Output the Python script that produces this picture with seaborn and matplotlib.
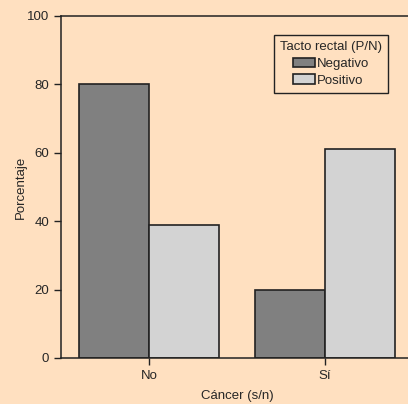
import pandas as pd
import matplotlib.pyplot as plt
import seaborn as sns

# Data
cancer = ['No', 'No', 'Sí', 'Sí']
tacto = ['Negativo', 'Positivo', 'Negativo', 'Positivo']
porcentaje = [80, 39, 20, 61]

df = pd.DataFrame({'Cáncer': cancer, 'Tacto': tacto, 'Porcentaje': porcentaje})

BG = '#FFE0C0'

sns.set_style('ticks')
plt.rcParams['font.family'] = ['Liberation Sans Narrow', 'Liberation Sans', 'DejaVu Sans']

fig = plt.figure(figsize=(4.08, 4.04), dpi=100, facecolor=BG)
ax = fig.add_axes([61 / 408, 46 / 404, 352 / 408, 342 / 404])
ax.set_facecolor(BG)

sns.barplot(
    data=df,
    x='Cáncer',
    y='Porcentaje',
    hue='Tacto',
    palette=['#808080', '#D3D3D3'],
    edgecolor='#222222',
    linewidth=1.2,
    width=0.8,
    saturation=1,
    ax=ax
)

ax.set_xlim(-0.5, 1.5)
ax.set_ylim(0, 100)
ax.set_yticks([0, 20, 40, 60, 80, 100])
ax.set_xlabel('Cáncer (s/n)', fontsize=9.5, labelpad=6)
ax.set_ylabel('Porcentaje', fontsize=9.5, labelpad=0)
ax.tick_params(labelsize=9.5, length=5, width=1, color='#222222')

for side in ['left', 'bottom', 'top']:
    ax.spines[side].set_color('#222222')
    ax.spines[side].set_linewidth(1.1)
ax.spines['right'].set_visible(False)

leg = ax.legend(
    title='Tacto rectal (P/N)',
    loc='upper right',
    bbox_to_anchor=(388 / 408, 1 - 35 / 404),
    bbox_transform=fig.transFigure,
    fontsize=9.5,
    title_fontsize=9.5,
    frameon=True,
    fancybox=False,
    edgecolor='#222222',
    facecolor=BG,
    framealpha=1,
    handlelength=1.6,
    handleheight=0.7,
    handletextpad=0.15,
    borderpad=0.45,
    labelspacing=0.35,
    borderaxespad=0
)
leg.get_frame().set_linewidth(1.0)

fig.savefig('out.png', dpi=100, facecolor=BG)
